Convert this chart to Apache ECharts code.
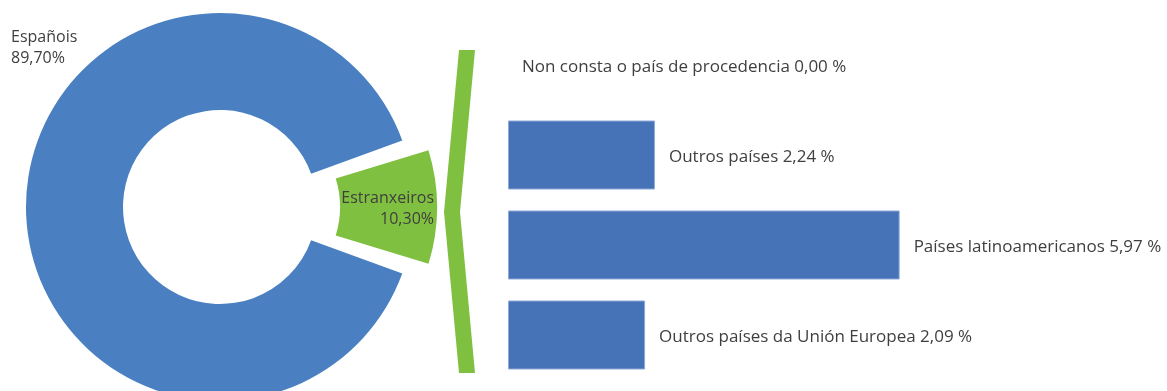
<!DOCTYPE html>
<html>
<head>
<meta charset="utf-8">
<script src="https://cdn.jsdelivr.net/npm/echarts@6/dist/echarts.min.js"></script>
<style>
html,body{margin:0;padding:0;background:#fff;}
#chart{width:1167px;height:391px;}
</style>
</head>
<body>
<div id="chart"></div>
<script>
// Pie data
const pieNames = ['Estranxeiros', 'Españois'];
const pieValues = [10.30, 89.70];
// Bar data (breakdown of Estranxeiros)
const barCategories = ['Non consta o país de procedencia', 'Outros países', 'Países latinoamericanos', 'Outros países da Unión Europea'];
const barValues = [0.00, 2.24, 5.97, 2.09];

const fmt = v => v.toFixed(2).replace('.', ',');
const FONT = 'Open Sans';
const TXT = '#3f3f3f';
const PIE_COLORS = ['#80c040', '#4a80c1'];

// one pie series per slice so the foreign slice can be pulled out
function pieSeries(activeIndex, center, labelPos) {
  return {
    type: 'pie',
    silent: true,
    center: center,
    radius: [97, 194],
    startAngle: 18.54,
    clockwise: true,
    padAngle: 3,
    data: pieNames.map((n, i) => ({
      name: n,
      value: pieValues[i],
      itemStyle: { color: i === activeIndex ? PIE_COLORS[i] : 'rgba(0,0,0,0)' },
      label: { show: i === activeIndex }
    })),
    label: {
      position: 'inside',
      formatter: p => p.name + '\n' + fmt(p.value) + '%',
      color: TXT,
      fontFamily: FONT,
      fontSize: 16,
      lineHeight: 21
    },
    labelLine: { show: false },
    labelLayout: () => labelPos,
    emphasis: { disabled: true }
  };
}

const chart = echarts.init(document.getElementById('chart'));
chart.setOption({
  animation: false,
  backgroundColor: '#ffffff',
  grid: { left: 508, top: 20, width: 656, height: 360 },
  xAxis: { type: 'value', min: 0, max: 10, show: false },
  yAxis: { type: 'category', data: barCategories, inverse: true, show: false },
  graphic: [{
    type: 'polygon',
    silent: true,
    shape: { points: [[459, 50], [475, 50], [460, 212], [475, 373], [459, 373], [444, 212]] },
    style: { fill: '#80c040' }
  }],
  series: [
    pieSeries(1, [220, 207], { x: 11, y: 27, align: 'left', verticalAlign: 'top' }),
    pieSeries(0, [243, 207], { x: 434, y: 209, align: 'right', verticalAlign: 'middle' }),
    {
      type: 'bar',
      silent: true,
      data: barValues.map(v => ({
        value: v,
        itemStyle: { borderWidth: v > 0 ? 1 : 0 }
      })),
      barWidth: 69,
      itemStyle: { color: '#4672b8', borderColor: '#8fa9d8' },
      label: {
        show: true,
        position: 'right',
        distance: 14,
        offset: [0, 2],
        formatter: p => p.name + ' ' + fmt(p.value) + ' %',
        color: TXT,
        fontFamily: FONT,
        fontSize: 17
      },
      emphasis: { disabled: true }
    }
  ]
});
</script>
</body>
</html>
